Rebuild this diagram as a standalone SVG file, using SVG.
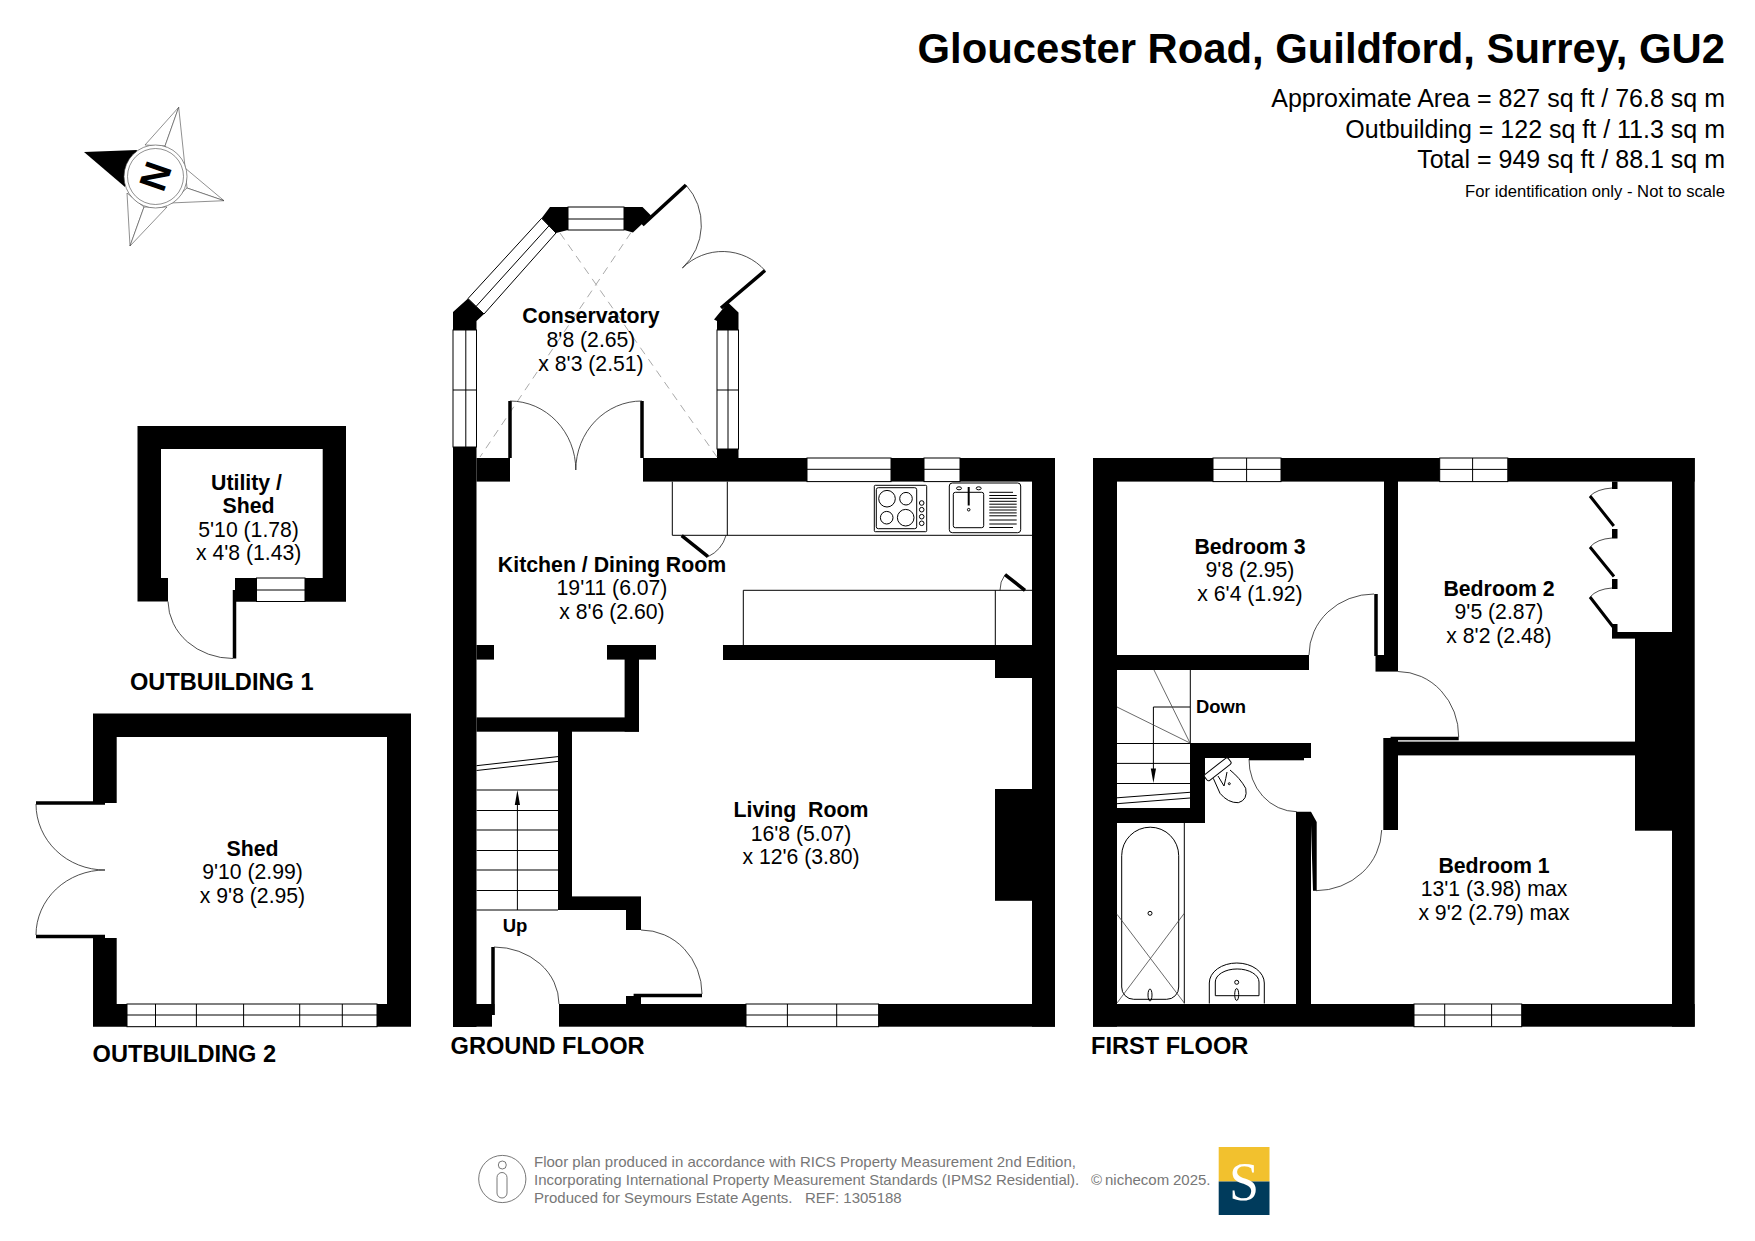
<svg xmlns="http://www.w3.org/2000/svg" width="1755" height="1241" viewBox="0 0 1755 1241">
<style>
text{font-family:"Liberation Sans",Arial,sans-serif;fill:#000}
.b{font-weight:700;font-size:21.3px;text-anchor:middle}
.r{font-size:21.2px;text-anchor:middle}
.fl{font-weight:700;font-size:23.6px}
.ar{font-size:25px;text-anchor:end}
.ft{font-size:15px;fill:#777}
.w{fill:#000;stroke:none}
.win{fill:#fff;stroke:#000;stroke-width:1}
.l{fill:none;stroke:#000;stroke-width:1}
.a{fill:none;stroke:#222;stroke-width:.8}
.lf{fill:none;stroke:#000;stroke-width:3.5}
.d{fill:none;stroke:#aaa;stroke-width:1;stroke-dasharray:8 6}
.c{fill:#fff;stroke:#444;stroke-width:.6}
</style>
<rect width="1755" height="1241" fill="#fff"/>

<g id="title">
<text x="1725" y="63" font-size="41.8" font-weight="700" text-anchor="end">Gloucester Road, Guildford, Surrey, GU2</text>
<text class="ar" x="1725" y="107">Approximate Area = 827 sq ft / 76.8 sq m</text>
<text class="ar" x="1725" y="138">Outbuilding = 122 sq ft / 11.3 sq m</text>
<text class="ar" x="1725" y="168">Total = 949 sq ft / 88.1 sq m</text>
<text x="1725" y="196.5" font-size="16.65" text-anchor="end">For identification only - Not to scale</text>
</g>

<g id="compass">
<polygon class="c" points="178.7,107.3 145,145 165,146"/>
<polygon class="c" points="178.7,107.3 165,146 185,167"/>
<polygon class="c" points="224,200.7 185,168 187,188"/>
<polygon class="c" points="224,200.7 187,188 170,203"/>
<polygon class="c" points="130,246 127,193 144,207"/>
<polygon class="c" points="130,246 144,207 167,207"/>
<polygon class="w" points="84,152 137,150 125,187"/>
<circle class="c" cx="155.5" cy="176.5" r="31.5"/>
<circle class="c" cx="155.5" cy="176.5" r="28"/>
<text transform="translate(155,176) rotate(-70.7)" y="13.5" font-size="38" font-weight="700" text-anchor="middle">N</text>
</g>

<g id="outbuilding-1">
<path class="w" fill-rule="evenodd" d="M137.5 426H346V601.5H235V578H161V601.5H137.5ZM161 449V578H322.7V449Z"/>
<rect class="w" x="161" y="578" width="7" height="23.5"/>
<rect class="w" x="235" y="578" width="111" height="23.5"/>
<rect class="win" x="256.5" y="578" width="48.5" height="23.5"/>
<path class="l" d="M256.5 590H305"/>
<path class="lf" d="M234.5 590V658.5"/>
<path class="a" d="M233 658.5A65 58 0 0 1 168 601.5"/>
<text class="b" x="246.5" y="490">Utility /</text>
<text class="b" x="248.6" y="513">Shed</text>
<text class="r" x="248.6" y="537">5'10 (1.78)</text>
<text class="r" x="248.6" y="560">x 4'8 (1.43)</text>
<text class="fl" x="130" y="689.8">OUTBUILDING 1</text>
</g>

<g id="outbuilding-2">
<path class="w" d="M93 713.5H411V1026.7H93V938H116.7V1004H387V737H116.7V803H93Z"/>
<rect class="win" x="127" y="1004" width="250" height="22.7"/>
<path class="l" d="M127 1015H377M155.5 1004V1026.7M196.4 1004V1026.7M243.6 1004V1026.7M299.7 1004V1026.7M342.3 1004V1026.7"/>
<path class="lf" d="M36 803H105M36 936.5H105"/>
<path class="a" d="M36 804A69 66 0 0 0 105 870A69 65 0 0 0 36 935"/>
<text class="b" x="252.5" y="856">Shed</text>
<text class="r" x="252.5" y="879.4">9'10 (2.99)</text>
<text class="r" x="252.5" y="902.7">x 9'8 (2.95)</text>
<text class="fl" x="92.6" y="1062">OUTBUILDING 2</text>
</g>

<g id="ground-floor">
<g id="gf-walls">
<rect class="w" x="453" y="447" width="23.5" height="580"/>
<rect class="w" x="476.5" y="458" width="33.5" height="23.6"/>
<rect class="w" x="643" y="458" width="412" height="23.6"/>
<rect class="w" x="717" y="449" width="21.5" height="9"/>
<rect class="w" x="1032" y="458" width="23" height="568.7"/>
<rect class="w" x="453" y="1004" width="39" height="22.7"/>
<rect class="w" x="492" y="1004" width="2.5" height="11"/>
<rect class="w" x="559" y="1004" width="496" height="22.7"/>
<rect class="w" x="476.5" y="645" width="17.5" height="14.6"/>
<rect class="w" x="607" y="645" width="49" height="14.6"/>
<rect class="w" x="624.6" y="659" width="14.4" height="72.7"/>
<rect class="w" x="476.5" y="717.4" width="162.5" height="14.3"/>
<rect class="w" x="558" y="731" width="14" height="179"/>
<rect class="w" x="558" y="896.4" width="83" height="13.6"/>
<rect class="w" x="626" y="910" width="15" height="20"/>
<rect class="w" x="626" y="996" width="15" height="8"/>
<rect class="w" x="723" y="645" width="309" height="15"/>
<rect class="w" x="995" y="660" width="37" height="18"/>
<rect class="w" x="995" y="789" width="37" height="111.8"/>
<polygon class="w" points="453,312 468,298.5 484,314 476.5,321 476.5,330 453,330"/>
<polygon class="w" points="541.6,218.3 550,207 568,207 568,230 556,233"/>
<polygon class="w" points="624,207 642.5,207 651,215.5 633,232.5 624,230"/>
<polygon class="w" points="728,302.5 738.5,312.4 738.5,330 717,330 717,321 714,319.5"/>
</g>
<g id="gf-windows">
<rect class="win" x="453" y="330" width="23.5" height="117"/>
<path class="l" d="M465.8 330V447M453 390H476.5"/>
<rect class="win" x="717" y="330" width="21.5" height="119"/>
<path class="l" d="M728 330V449M717 390H738.5"/>
<polygon class="win" points="468,298.5 484,314 556,233 541.6,218.3"/>
<path class="l" d="M476 306.5L549 225.8"/>
<rect class="win" x="568" y="207" width="56" height="23"/>
<path class="l" d="M568 219H624"/>
<rect class="win" x="807" y="458" width="84" height="23.6"/>
<path class="l" d="M807 469.3H891"/>
<rect class="win" x="924" y="458" width="36" height="23.6"/>
<path class="l" d="M924 469.3H960"/>
<rect class="win" x="746" y="1004" width="132.6" height="22.7"/>
<path class="l" d="M746 1015H878.6M787.4 1004V1026.7M836.7 1004V1026.7"/>
</g>
<g id="gf-doors">
<path class="d" d="M560 233L717 457M631 232.5L480 457"/>
<path class="lf" d="M642.5 225L686 185M721 308L765 270.5"/>
<path class="a" d="M686 185A59 59 0 0 1 682.4 268A57 57 0 0 1 765 270.5"/>
<path class="lf" d="M510 401V458M642 401V458"/>
<path class="a" d="M510 401A66 69 0 0 1 575.8 470A66 69 0 0 1 642 401"/>
<path class="lf" d="M493 947V1015M633.6 995.5H702"/>
<path class="a" d="M494 947A65 57 0 0 1 559 1004M702 994A61 64 0 0 0 641 930"/>
<path class="lf" d="M681.7 535.7L708 556.7M1005 574.7L1025 590.3"/>
<path class="a" d="M708 556.7A34 34 0 0 0 726 535.5M1005 574.7A25 25 0 0 0 1000 590.3"/>
</g>
<g id="kitchen-fittings">
<path class="l" d="M672.3 481.6V535.3H1032M727.3 481.6V535.3M743.3 645V590.3H1032M995.3 590.3V645"/>
<rect class="l" x="874.3" y="485.3" width="52.4" height="46.4" rx="1"/>
<rect class="l" x="876.3" y="487.7" width="40.4" height="41" rx="2"/>
<circle class="l" cx="887" cy="498.7" r="8.3"/>
<circle class="l" cx="906" cy="498.7" r="6.3"/>
<circle class="l" cx="886.7" cy="517.7" r="6.3"/>
<circle class="l" cx="905.7" cy="517.7" r="8.3"/>
<circle class="l" cx="921.7" cy="503" r="2.3"/>
<circle class="l" cx="921.7" cy="509.7" r="2.3"/>
<circle class="l" cx="921.7" cy="516.7" r="2.3"/>
<circle class="l" cx="921.7" cy="523.3" r="2.3"/>
<rect class="l" x="949.3" y="483" width="71.4" height="49.7" rx="3"/>
<rect class="l" x="953.3" y="492.3" width="30.4" height="35.4" rx="2"/>
<path class="l" d="M968.7 487V505.5" style="stroke-width:2"/>
<circle class="l" cx="968.7" cy="509.7" r="1.3"/>
<ellipse class="l" cx="959" cy="488.3" rx="2.5" ry="1.5"/>
<ellipse class="l" cx="978.7" cy="488.3" rx="2.5" ry="1.5"/>
<path class="l" d="M989.3 492.3H1013M989.3 495.5H1016.7M989.3 498.4H1016.7M989.3 501.3H1016.7M989.3 504.2H1016.7M989.3 507.1H1016.7M989.3 510H1016.7M989.3 512.9H1016.7M989.3 515.8H1016.7M989.3 520H1016.7M989.3 524H1016.7M989.3 527.5H1013"/>
</g>
<g id="gf-stairs">
<path class="l" d="M476.5 790H558M476.5 810.5H558M476.5 830H558M476.5 850.5H558M476.5 870H558M476.5 890.5H558M476.5 910H558M517.4 800V910"/>
<path class="l" d="M476.5 765.7L558 756.6M476.5 770.5L558 761.4"/>
<polygon class="w" points="517.4,790 514.8,805 520,805"/>
</g>
<text class="b" x="591" y="323">Conservatory</text>
<text class="r" x="591" y="346.8">8'8 (2.65)</text>
<text class="r" x="591" y="370.5">x 8'3 (2.51)</text>
<text class="b" x="612" y="572">Kitchen / Dining Room</text>
<text class="r" x="612" y="595">19'11 (6.07)</text>
<text class="r" x="612" y="618.5">x 8'6 (2.60)</text>
<text class="b" x="801" y="817" xml:space="preserve">Living  Room</text>
<text class="r" x="801" y="841">16'8 (5.07)</text>
<text class="r" x="801" y="864">x 12'6 (3.80)</text>
<text x="515" y="931.7" font-size="18.5" font-weight="700" text-anchor="middle">Up</text>
<text class="fl" x="450.6" y="1054">GROUND FLOOR</text>
</g>

<g id="first-floor">
<g id="ff-walls">
<rect class="w" x="1093" y="458" width="601.7" height="23.6"/>
<rect class="w" x="1093" y="458" width="24" height="568.7"/>
<rect class="w" x="1672" y="458" width="22.7" height="568.7"/>
<rect class="w" x="1093" y="1004" width="601.7" height="22.7"/>
<rect class="w" x="1384" y="481" width="14" height="190"/>
<rect class="w" x="1375.5" y="655" width="22.5" height="16.6"/>
<rect class="w" x="1117" y="655" width="192" height="15"/>
<rect class="w" x="1117" y="808" width="88" height="15"/>
<rect class="w" x="1190" y="743" width="15" height="80"/>
<rect class="w" x="1190" y="743" width="121" height="15"/>
<rect class="w" x="1249" y="758" width="55" height="2.3"/>
<path class="w" d="M1296 811.7H1311L1316.7 822V890.7H1313L1311 825V1004H1296Z"/>
<rect class="w" x="1383.3" y="738" width="14.7" height="92"/>
<rect class="w" x="1398" y="741.6" width="237" height="13.8"/>
<rect class="w" x="1635" y="632" width="37" height="198.7"/>
<rect class="w" x="1612" y="632" width="23" height="6.6"/>
<rect class="w" x="1612" y="624" width="5.5" height="14"/>
<rect class="w" x="1612" y="481.6" width="5.5" height="7.4"/>
<rect class="w" x="1612" y="529" width="5.5" height="9.5"/>
<rect class="w" x="1612" y="579" width="5.5" height="10"/>
</g>
<g id="ff-windows">
<rect class="win" x="1213" y="458" width="68" height="23.6"/>
<path class="l" d="M1213 469.4H1281M1246.6 458V481.6"/>
<rect class="win" x="1439.7" y="458" width="68.1" height="23.6"/>
<path class="l" d="M1439.7 469.4H1507.8M1472.6 458V481.6"/>
<rect class="win" x="1414" y="1004" width="107.7" height="22.7"/>
<path class="l" d="M1414 1015H1521.7M1444.7 1004V1026.7M1491.6 1004V1026.7"/>
</g>
<g id="ff-doors">
<path class="lf" d="M1376 594V656M1390.6 738.5H1458.7"/>
<path class="a" d="M1374 594A65 61 0 0 0 1309 655M1249 759A48 52 0 0 0 1296.7 811.7M1316 890.7A66 62 0 0 0 1381.7 830M1458.7 737A61 65 0 0 0 1398 671.5"/>
<path class="lf" style="stroke-width:3" d="M1590 496L1613.8 526M1590 547L1614 576.5M1590 597L1614 628"/>
<path class="a" d="M1612 488Q1597 489 1590 496M1612 538Q1597 539 1590 547M1612 588Q1597 589 1590 597"/>
</g>
<g id="ff-stairs">
<path class="l" d="M1190.3 670V743.5M1117 743.5H1190M1117 763.4H1190M1117 783.5H1190M1190 707H1153.4V770"/>
<path class="l" style="stroke:#444;stroke-width:.8" d="M1154 670L1190 743M1117 707L1190 743"/>
<path class="l" d="M1117 797.8L1190 792.3M1117 803.7L1190 798"/>
<polygon class="w" points="1153.4,783 1150.8,768.5 1156,768.5"/>
</g>
<g id="bathroom">
<path class="l" d="M1184.3 822.7V1003.5"/>
<path class="l" d="M1121.7 855.7A28.5 28.5 0 0 1 1178.7 855.7V987A12 12 0 0 1 1166.7 999.3H1133.7A12 12 0 0 1 1121.7 987Z"/>
<path class="l" style="stroke:#444;stroke-width:.8" d="M1117 914.3L1184.3 1003M1184.3 913.3L1117 1003"/>
<circle class="l" cx="1150" cy="913.3" r="2"/>
<ellipse class="l" cx="1150" cy="995" rx="2" ry="6"/>
<path class="l" d="M1209.3 1003.5V983A27.5 20 0 0 1 1264.3 983V1003.5"/>
<path class="l" d="M1215.3 995.7V982A21.8 13 0 0 1 1259 982V995.7Z"/>
<circle class="l" cx="1236.7" cy="982.3" r="2"/>
<ellipse class="l" cx="1236.7" cy="994.5" rx="2" ry="6"/>
<path class="l" d="M1213.3 778.3L1220 793.3Q1228 803 1238.3 802.7Q1248 800 1245.7 788.3Q1240 778 1230 770"/>
<path class="l" d="M1218 776L1224 786Q1226 778 1227 772"/>
<rect x="-15" y="-3.8" width="30" height="7.6" rx="2" transform="translate(1217.7,769.3) rotate(-38)" style="fill:#fff;stroke:#000;stroke-width:1"/>
<circle class="l" cx="1229.3" cy="783.7" r="1"/>
</g>
<text class="b" x="1250" y="553.6">Bedroom 3</text>
<text class="r" x="1250" y="577">9'8 (2.95)</text>
<text class="r" x="1250" y="601">x 6'4 (1.92)</text>
<text class="b" x="1499" y="596">Bedroom 2</text>
<text class="r" x="1499" y="619">9'5 (2.87)</text>
<text class="r" x="1499" y="643">x 8'2 (2.48)</text>
<text class="b" x="1494" y="872.6">Bedroom 1</text>
<text class="r" x="1494" y="896">13'1 (3.98) max</text>
<text class="r" x="1494" y="920">x 9'2 (2.79) max</text>
<text x="1196" y="713" font-size="18.4" font-weight="700">Down</text>
<text class="fl" x="1091" y="1054">FIRST FLOOR</text>
</g>

<g id="footer">
<circle cx="502.3" cy="1179" r="23.6" fill="none" stroke="#555" stroke-width=".8"/>
<circle cx="502.3" cy="1165" r="4" fill="none" stroke="#555" stroke-width=".8"/>
<rect x="497" y="1172.5" width="10" height="25.5" rx="5" fill="none" stroke="#555" stroke-width=".8"/>
<text class="ft" x="534" y="1167">Floor plan produced in accordance with RICS Property Measurement 2nd Edition,</text>
<text class="ft" x="534" y="1185">Incorporating International Property Measurement Standards (IPMS2 Residential).</text>
<text class="ft" x="534" y="1202.5" xml:space="preserve">Produced for Seymours Estate Agents.   REF: 1305188</text>
<text class="ft" y="1185"><tspan x="1091">©</tspan><tspan x="1105">nichecom</tspan><tspan x="1173">2025.</tspan></text>
<rect x="1218.7" y="1147" width="50.8" height="34.5" fill="#f2c12e"/>
<rect x="1218.7" y="1181.5" width="50.8" height="33.5" fill="#003b5c"/>
<text x="1244" y="1200" font-size="54" text-anchor="middle" style="font-family:'Liberation Serif',serif;fill:#fff">S</text>
</g>
</svg>
